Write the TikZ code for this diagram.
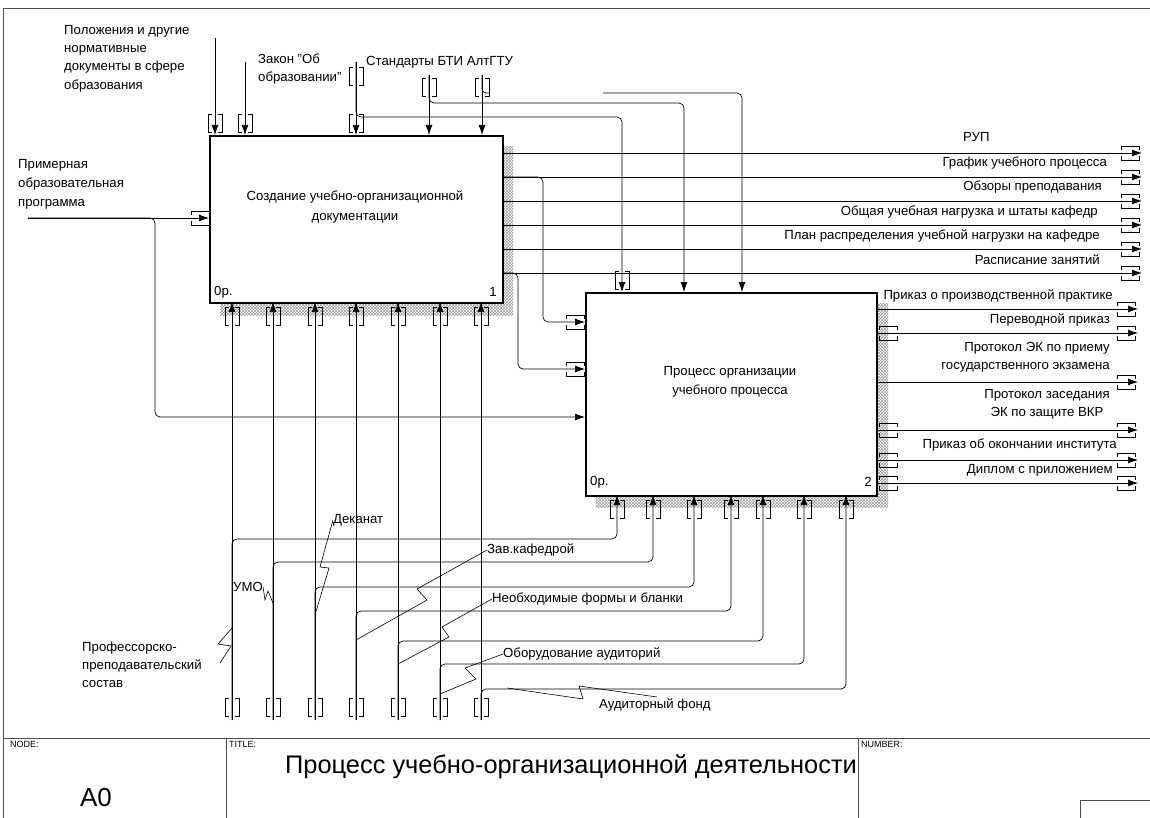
\documentclass[tikz,border=0pt]{standalone}
\usepackage{fontspec}
\setmainfont{Liberation Sans}
\usetikzlibrary{arrows.meta,patterns,positioning}

\tikzset{
  tunv/.pic={\draw[line width=0.6pt] (-3,-9) -- (-7,-9) -- (-7,9) -- (-3,9) (3,-9) -- (7,-9) -- (7,9) -- (3,9);},
  tunh/.pic={\draw[line width=0.6pt] (-9,-3) -- (-9,-7) -- (9,-7) -- (9,-3) (-9,3) -- (-9,7) -- (9,7) -- (9,3);}
}

\begin{document}
\begin{tikzpicture}[x=1pt, y=-1pt, >={Latex[length=10pt,width=7pt]}, font=\fontsize{13.2}{15}\selectfont]
    \tikzstyle{box} = [draw, line width=1.6pt, fill=white, inner sep=0pt, anchor=north west]
    \tikzstyle{arc} = [->, line width=0.7pt, rounded corners=5pt]
    \tikzstyle{wire} = [line width=0.7pt, rounded corners=4pt]
    \tikzstyle{zig} = [line width=0.6pt]
    \tikzstyle{lbl} = [inner sep=0pt, align=left]
    \tikzstyle{shadow} = [pattern=crosshatch, pattern color=gray!80]
    \tikzstyle{frame} = [line width=0.8pt, draw=black!70]
    \tikzstyle{small} = [inner sep=0pt, anchor=north west, font=\fontsize{9}{10}\selectfont]

    \useasboundingbox (0,0) rectangle (1150,818);

    % frame and title block
    \draw[frame] (3,818) -- (3,8) -- (1150,8);
    \draw[frame] (3,738) -- (1150,738);
    \draw[frame] (226,738) -- (226,818) (858,738) -- (858,818);
    \draw[frame] (1080,818) |- (1150,800);
    \node[small] (nodelbl) at (10,741) {NODE:};
    \node[small] (titlelbl) at (229,741) {TITLE:};
    \node[small] (numlbl) at (861,741) {NUMBER:};
    \node[font=\fontsize{26}{28}\selectfont] (nodeid) at (96,798) {A0};
    \node[font=\fontsize{25.4}{28}\selectfont, anchor=west, inner sep=0pt] (title) at (285,767) {Процесс учебно-организационной деятельности};

    % activities
    \fill[shadow] (220,147) rectangle (513,315);
    \fill[shadow] (596,303) rectangle (888,507);
    \node[box, minimum width=293pt, minimum height=167pt] (a1) at (209,135) {};
    \node[box, minimum width=291pt, minimum height=203pt] (a2) at (585,292) {};
    \node[align=center, font=\fontsize{13.2}{20}\selectfont] (a1txt) at (355,207) {Создание учебно-организационной\\документации};
    \node[align=center, font=\fontsize{13.2}{19.5}\selectfont] (a2txt) at (730,382) {Процесс организации\\учебного процесса};
    \node[lbl, anchor=west] (a1op) at (214,292) {0р.};
    \node[lbl, anchor=east] (a1no) at (497,292) {1};
    \node[lbl, anchor=west] (a2op) at (590,482) {0р.};
    \node[lbl, anchor=east] (a2no) at (872,482) {2};

    % controls
    \coordinate (cs1) at (215,38);  \coordinate (c1) at (215,135);
    \coordinate (cs2) at (245,62);  \coordinate (c2) at (245,135);
    \coordinate (cs3) at (356,62);  \coordinate (c3) at (356,135);
    \coordinate (cs4) at (429,75);  \coordinate (c4) at (429,135);
    \coordinate (cs5) at (482,75);  \coordinate (c5) at (482,135);
    \coordinate (d1) at (622,292);
    \coordinate (d2) at (684,292);
    \coordinate (d3) at (742,292);
    \coordinate (cb3) at (356,117);
    \coordinate (cb4) at (429,103);
    \coordinate (cb5) at (482,93);
    \coordinate (cg5) at (603,93);
    \foreach \i in {1,...,5} {
      \draw[arc] (cs\i) -- (c\i);
    }
    \draw[arc] (cs3) -- (cb3) -| (d1);
    \draw[arc] (cs4) -- (cb4) -| (d2);
    \draw[wire] (cs5) -- (cb5) -- ++(8,0);
    \draw[arc] (cg5) -| (d3);
    \foreach \x in {215,245,356} { \pic at (\x,123) {tunv}; }
    \pic at (356,76) {tunv};
    \pic at (429,87) {tunv};
    \pic at (482,87) {tunv};
    \pic at (622,280) {tunv};

    \node[lbl, anchor=north west, font=\fontsize{13.2}{18.3}\selectfont] (l1) at (64,25) {Положения и другие\\нормативные\\документы в сфере\\образования};
    \node[lbl, anchor=north west, font=\fontsize{13.2}{18}\selectfont] (l2) at (258,54) {Закон "Об\\образовании"};
    \node[lbl, anchor=west] (l3) at (366,62) {Стандарты БТИ АлтГТУ};

    % inputs
    \coordinate (in1) at (28,218);
    \coordinate (i1) at (209,218);
    \coordinate (i2a) at (585,322);
    \coordinate (i2b) at (585,369);
    \coordinate (i2c) at (585,417);
    \coordinate (k1) at (543,322);
    \coordinate (k2) at (518,369);
    \coordinate (k3) at (155,417);
    \draw[arc] (in1) -- (i1);
    \draw[arc] (in1) -| (k3) -- (i2c);
    \pic at (200,218) {tunh};
    \pic at (575,322) {tunh};
    \pic at (575,369) {tunh};
    \node[lbl, anchor=north west, font=\fontsize{13.2}{19}\selectfont] (l4) at (18,159) {Примерная\\образовательная\\программа};

    % outputs of activity 1
    \foreach \y [count=\i] in {153,177,201,225,249,273} {
      \coordinate (o\i) at (502,\y);
      \coordinate (oe\i) at (1142,\y);
      \draw[arc] (o\i) -- (oe\i);
      \pic at (1130,\y) {tunh};
    }
    \draw[arc] (o2) -| (k1) -- (i2a);
    \draw[arc] (o6) -| (k2) -- (i2b);
    \node[lbl, anchor=west] (r1) at (963,137) {РУП};
    \node[lbl, anchor=east] (r2) at (1107,163) {График учебного процесса};
    \node[lbl, anchor=east] (r3) at (1102,187) {Обзоры преподавания};
    \node[lbl, anchor=east] (r4) at (1098,212) {Общая учебная нагрузка и штаты кафедр};
    \node[lbl, anchor=east] (r5) at (1100,236) {План распределения учебной нагрузки на кафедре};
    \node[lbl, anchor=east] (r6) at (1100,260) {Расписание занятий};

    % outputs of activity 2
    \foreach \y [count=\i] in {309,333,382,430,460,483} {
      \coordinate (p\i) at (876,\y);
      \coordinate (pe\i) at (1138,\y);
      \draw[arc] (p\i) -- (pe\i);
      \pic at (1126,\y) {tunh};
    }
    \foreach \y in {333,430,460,483} { \pic at (888,\y) {tunh}; }
    \node[lbl, anchor=east] (s1) at (1113,296) {Приказ о производственной практике};
    \node[lbl, anchor=east] (s2) at (1110,320) {Переводной приказ};
    \node[lbl, align=right, anchor=north east, font=\fontsize{13.2}{18.5}\selectfont] (s3) at (1110,342) {Протокол ЭК по приему\\государственного экзамена};
    \node[lbl, align=center, anchor=north, font=\fontsize{13.2}{18.5}\selectfont] (s4) at (1047,389) {Протокол заседания\\ЭК по защите ВКР};
    \node[lbl, anchor=east] (s5) at (1117,445) {Приказ об окончании института};
    \node[lbl, anchor=east] (s6) at (1113,470) {Диплом с приложением};

    % mechanisms
    \foreach \x/\xt/\yb [count=\i] in {232/617/539, 273/653/562, 315/694/587, 356/731/611, 398/763/641, 440/804/664, 481/846/689} {
      \coordinate (ms\i) at (\x,720);
      \coordinate (m\i) at (\x,302);
      \coordinate (mb\i) at (\x,\yb);
      \coordinate (n\i) at (\xt,495);
      \draw[arc] (ms\i) -- (m\i);
      \draw[arc] (ms\i) -- (mb\i) -| (n\i);
      \pic at (\x,316) {tunv};
      \pic at (\x,707) {tunv};
      \pic at (\xt,509) {tunv};
    }
    \node[lbl, anchor=north west, font=\fontsize{13.2}{18}\selectfont] (u1) at (82,642) {Профессорско-\\преподавательский\\состав};
    \node[lbl, anchor=west] (u2) at (233,587) {УМО};
    \node[lbl, anchor=west] (u3) at (333,520) {Деканат};
    \node[lbl, anchor=west] (u4) at (487,550) {Зав.кафедрой};
    \node[lbl, anchor=west] (u5) at (492,599) {Необходимые формы и бланки};
    \node[lbl, anchor=west] (u6) at (503,654) {Оборудование аудиторий};
    \node[lbl, anchor=west] (u7) at (599,705) {Аудиторный фонд};
    \draw[zig] (220,663) -- (231,646) -- (218,644) -- (232,628);
    \draw[zig] (u2.east) -- (265,600) -- (268,591) -- (273,603);
    \draw[zig] (u3.west) -- (320,567) -- (329,568) -- (315,615);
    \draw[zig] (u4.west) -- (417,589) -- (427,600) -- (356,640);
    \draw[zig] (u5.west) -- (442,627) -- (449,637) -- (398,664);
    \draw[zig] (u6.west) -- (465,668) -- (476,679) -- (440,694);
    \draw[zig] (507,688) -- (583,699) -- (579,686) -- (657,697);
\end{tikzpicture}
\end{document}
